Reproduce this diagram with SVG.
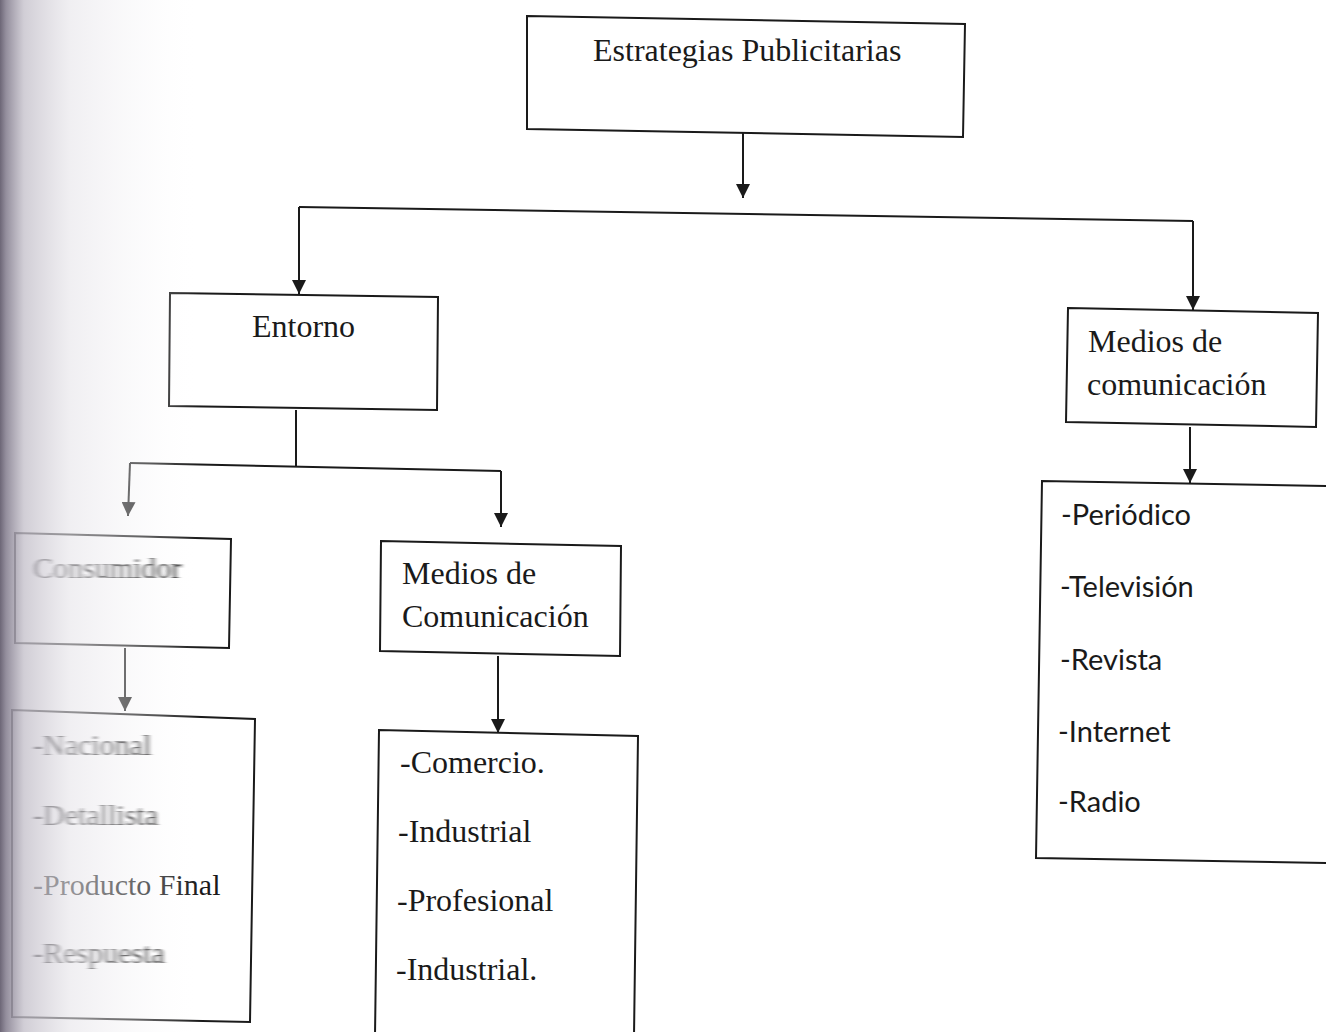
<svg xmlns="http://www.w3.org/2000/svg" width="1326" height="1032" viewBox="0 0 1326 1032">
<defs>
<marker id="ah" viewBox="0 0 10 10" refX="10" refY="5" markerWidth="14" markerHeight="14" markerUnits="userSpaceOnUse" orient="auto">
<path d="M0,0 L10,5 L0,10 z" fill="#1a1a1a"/>
</marker>
<linearGradient id="spine" x1="0" y1="0" x2="1" y2="0">
<stop offset="0" stop-color="#6c6676" stop-opacity="1"/>
<stop offset="0.03" stop-color="#8a8494" stop-opacity="0.92"/>
<stop offset="0.12" stop-color="#c4c0ca" stop-opacity="0.78"/>
<stop offset="0.35" stop-color="#e6e4e9" stop-opacity="0.6"/>
<stop offset="0.75" stop-color="#f6f5f7" stop-opacity="0.3"/>
<stop offset="1" stop-color="#ffffff" stop-opacity="0"/>
</linearGradient>
<filter id="blur" x="-5%" y="-20%" width="110%" height="140%">
<feGaussianBlur stdDeviation="2 0.7"/>
</filter>
</defs>
<style>
.box{fill:#ffffff;stroke:#1a1a1a;stroke-width:2}
.con{fill:none;stroke:#1a1a1a;stroke-width:2}
.serif{font-family:"Liberation Serif","Times New Roman",serif;fill:#1a1a1a;font-size:32px}
.left{font-size:30px}
.sans{font-family:Lato,"Open Sans","Liberation Sans",sans-serif;fill:#1a1a1a;font-size:29px}
</style>
<rect width="1326" height="1032" fill="#ffffff"/>

<g id="connectors">
<path class="con" d="M743,131 L743,198" marker-end="url(#ah)"/>
<path class="con" d="M299,207 L1193,221"/>
<path class="con" d="M299,207 L299,294" marker-end="url(#ah)"/>
<path class="con" d="M1193,221 L1193,310" marker-end="url(#ah)"/>
<path class="con" d="M1190,427 L1190,483" marker-end="url(#ah)"/>
<path class="con" d="M296,410 L296,467"/>
<path class="con" d="M130,463 L501,471"/>
<path class="con" d="M130,463 L128,516" marker-end="url(#ah)"/>
<path class="con" d="M501,471 L501,527" marker-end="url(#ah)"/>
<path class="con" d="M125,648 L125,711" marker-end="url(#ah)"/>
<path class="con" d="M498,656 L498,733" marker-end="url(#ah)"/>
</g>

<g id="node-estrategias">
<polygon class="box" points="527,16 965,24 963,137 527,129"/>
<text class="serif" x="593" y="61">Estrategias Publicitarias</text>
</g>

<g id="node-entorno">
<polygon class="box" points="170,293 438,297 437,410 169,406"/>
<text class="serif" x="252" y="337">Entorno</text>
</g>

<g id="node-medios-right">
<polygon class="box" points="1068,308 1318,313 1316,427 1066,422"/>
<text class="serif" x="1088" y="352">Medios de</text>
<text class="serif" x="1087" y="395">comunicación</text>
</g>

<g id="node-medios-right-list">
<path class="box" d="M1330,486 L1042,481 L1036,858 L1330,863"/>
<text class="sans" x="1061" y="525">-Periódico</text>
<text class="sans" x="1060" y="597">-Televisión</text>
<text class="sans" x="1060" y="670">-Revista</text>
<text class="sans" x="1058" y="742">-Internet</text>
<text class="sans" x="1058" y="812">-Radio</text>
</g>

<g id="node-consumidor">
<polygon class="box" points="15,533 231,539 229,648 15,643"/>
<text class="serif left" x="33" y="578" filter="url(#blur)">Consumidor</text>
</g>

<g id="node-consumidor-list">
<polygon class="box" points="12,710 255,719 250,1022 12,1017"/>
<text class="serif left" x="33" y="755" filter="url(#blur)">-Nacional</text>
<text class="serif left" x="33" y="825" filter="url(#blur)">-Detallista</text>
<text class="serif left" x="33" y="895">-Producto Final</text>
<text class="serif left" x="33" y="963" filter="url(#blur)">-Respuesta</text>
</g>

<g id="node-medios-left">
<polygon class="box" points="381,541 621,546 620,656 380,651"/>
<text class="serif" x="402" y="584">Medios de</text>
<text class="serif" x="402" y="627">Comunicación</text>
</g>

<g id="node-medios-left-list">
<path class="box" d="M375,1036 L379,730 L638,736 L634,1036"/>
<text class="serif" x="400" y="773">-Comercio.</text>
<text class="serif" x="398" y="842">-Industrial</text>
<text class="serif" x="397" y="911">-Profesional</text>
<text class="serif" x="396" y="980">-Industrial.</text>
</g>

<rect x="0" y="0" width="200" height="1032" fill="url(#spine)"/>
</svg>
